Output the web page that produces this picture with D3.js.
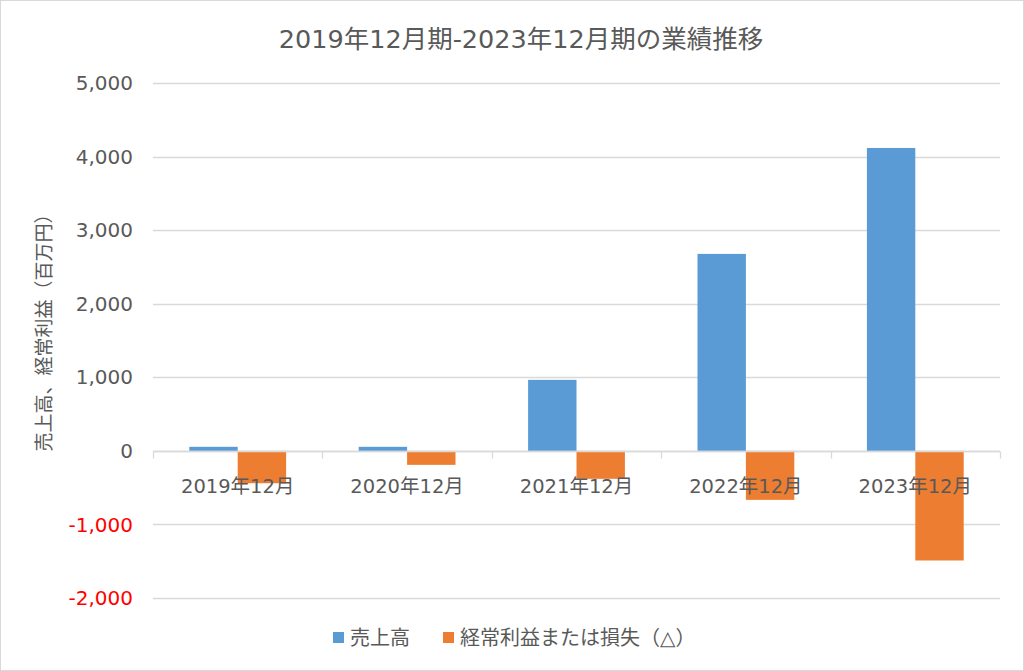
<!doctype html>
<html>
<head>
<meta charset="utf-8">
<script src="https://cdn.jsdelivr.net/npm/d3@7"></script>
<style>
  body { margin: 0; background: #fff; }
  text { font-family: "DejaVu Sans", "Noto Sans CJK JP", sans-serif; fill: #595959; }
</style>
</head>
<body>
<script>
var categories = ["2019年12月", "2020年12月", "2021年12月", "2022年12月", "2023年12月"];
var sales = [55, 55, 965, 2677, 4117];
var ordinaryProfit = [-440, -190, -380, -666, -1490];
var seriesNames = ["売上高", "経常利益または損失（△）"];
var yTicks = [-2000, -1000, 0, 1000, 2000, 3000, 4000, 5000];

var W = 1024, H = 671;
var svg = d3.select("body").append("svg").attr("width", W).attr("height", H);

// outer border
svg.append("rect").attr("x", 0.5).attr("y", 0.5).attr("width", W - 1).attr("height", H - 1)
   .attr("fill", "#fff").attr("stroke", "#d9d9d9");

var left = 153, right = 1000;
var y = d3.scaleLinear().domain([-2000, 5000]).range([598, 83]);
var x0 = d3.scaleBand().domain(categories).range([left, right]).paddingInner(0).paddingOuter(0);
var bw = x0.bandwidth() / 3.5;   // gap width 150%
var fmt = d3.format(",");

// gridlines
svg.append("g").selectAll("line").data(yTicks).enter().append("line")
   .attr("x1", left).attr("x2", right)
   .attr("y1", function(d) { return Math.round(y(d)) + 0.5; })
   .attr("y2", function(d) { return Math.round(y(d)) + 0.5; })
   .attr("stroke", "#d9d9d9").attr("stroke-width", 1.3);

// y tick labels (plain hyphen for negatives, red like Excel)
svg.append("g").selectAll("text").data(yTicks).enter().append("text")
   .attr("x", 133).attr("y", function(d) { return y(d); })
   .attr("dy", "0.36em").attr("text-anchor", "end")
   .style("font-size", "20px")
   .style("fill", function(d) { return d < 0 ? "#ff0000" : "#595959"; })
   .text(function(d) { return fmt(d).replace("\u2212", "-"); });

// bars
var g = svg.append("g");
g.selectAll("rect.sales").data(sales).enter().append("rect")
  .attr("x", function(d, i) { return x0(categories[i]) + x0.bandwidth() / 2 - bw; })
  .attr("width", bw)
  .attr("y", function(d) { return y(Math.max(0, d)); })
  .attr("height", function(d) { return Math.abs(y(d) - y(0)); })
  .attr("fill", "#5b9bd5");
g.selectAll("rect.profit").data(ordinaryProfit).enter().append("rect")
  .attr("x", function(d, i) { return x0(categories[i]) + x0.bandwidth() / 2; })
  .attr("width", bw)
  .attr("y", function(d) { return y(Math.max(0, d)); })
  .attr("height", function(d) { return Math.abs(y(d) - y(0)); })
  .attr("fill", "#ed7d31");

// category axis at zero
var zeroY = Math.round(y(0)) + 0.5;
svg.append("line").attr("x1", left).attr("x2", right).attr("y1", zeroY).attr("y2", zeroY)
   .attr("stroke", "#d9d9d9").attr("stroke-width", 1.3);
var bounds = categories.map(function(c) { return x0(c); }).concat([right]);
svg.append("g").selectAll("line").data(bounds).enter().append("line")
   .attr("x1", function(d) { return Math.round(d) + 0.5; })
   .attr("x2", function(d) { return Math.round(d) + 0.5; })
   .attr("y1", zeroY).attr("y2", zeroY + 7)
   .attr("stroke", "#d9d9d9").attr("stroke-width", 1.3);

svg.append("g").selectAll("text").data(categories).enter().append("text")
   .attr("x", function(d) { return x0(d) + x0.bandwidth() / 2; })
   .attr("y", 493).attr("text-anchor", "middle")
   .style("font-size", "19.5px")
   .text(function(d) { return d; });

// title
svg.append("text").attr("x", 521).attr("y", 48).attr("text-anchor", "middle")
   .style("font-size", "25.5px")
   .text("2019年12月期-2023年12月期の業績推移");

// y axis title
svg.append("text").attr("transform", "translate(51,328) rotate(-90)")
   .attr("text-anchor", "middle").style("font-size", "19px")
   .text("売上高、経常利益（百万円）");

// legend
var legend = svg.append("g");
var lx = [333, 443];
var colors = ["#5b9bd5", "#ed7d31"];
seriesNames.forEach(function(n, i) {
  legend.append("rect").attr("x", lx[i]).attr("y", 632).attr("width", 11).attr("height", 11).attr("fill", colors[i]);
  legend.append("text").attr("x", lx[i] + 17).attr("y", 645).style("font-size", "20px").text(n);
});
</script>
</body>
</html>
